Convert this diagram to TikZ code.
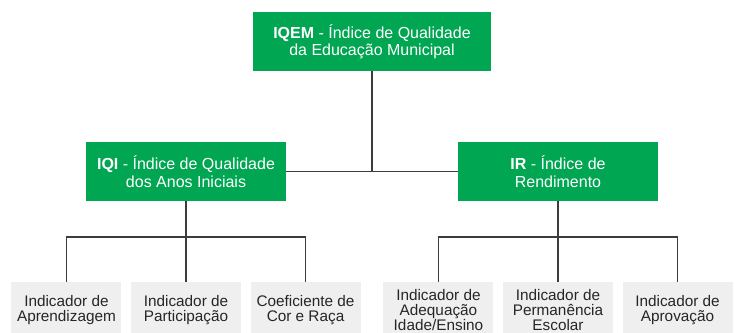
\documentclass[tikz,border=0pt]{standalone}
\usepackage{fontspec}
\setmainfont{Liberation Sans}
\usetikzlibrary{positioning}
\definecolor{boxgreen}{HTML}{00A651}
\definecolor{boxgray}{HTML}{EFEFEF}
\definecolor{linegray}{HTML}{3C3C3C}

\begin{document}
\begin{tikzpicture}[x=0.75pt,y=-0.75pt,node distance=6.75pt,
    index/.style={fill=boxgreen,text=white,align=center,inner sep=0pt,
      minimum height=59*0.75pt,font=\fontsize{12}{13}\selectfont},
    indic/.style={fill=boxgray,text=black!85,align=center,inner sep=0pt,
      minimum width=110*0.75pt,minimum height=56*0.75pt,font=\fontsize{11.5}{11.5}\selectfont},
    link/.style={draw=linegray,line width=1.4pt}]
    \useasboundingbox (0,0) rectangle (735,332);
    \node[index,minimum width=238*0.75pt] (iqem) at (372,41.5) {\textbf{IQEM} - Índice de Qualidade\\da Educação Municipal};
    \node[index,minimum width=200*0.75pt] (iqi) at (186,171.5) {\textbf{IQI} - Índice de Qualidade\\dos Anos Iniciais};
    \node[index,minimum width=200*0.75pt] (ir) at (558,171.5) {\textbf{IR} - Índice de\\Rendimento};
    \node[indic] (par) at (186,310) {Indicador de\\Participação};
    \node[indic,left = of par] (apr) {Indicador de\\Aprendizagem};
    \node[indic,right = of par] (cor) {Coeficiente de\\Cor e Raça};
    \node[indic] (perm) at (558,310) {Indicador de\\Permanência\\Escolar};
    \node[indic,left = of perm] (adeq) {Indicador de\\Adequação\\Idade/Ensino};
    \node[indic,right = of perm] (aprov) {Indicador de\\Aprovação};
    %
    \draw[link] (iqi) -- (ir);
    \draw[link] (iqem) -- (iqem |- iqi);
    \draw[link] (iqi) -- (par);
    \draw[link] (ir) -- (perm);
    \draw[link] (apr.north) -- ++(0,-45) -| (cor.north);
    \draw[link] (adeq.north) -- ++(0,-45) -| (aprov.north);
\end{tikzpicture}
\end{document}
